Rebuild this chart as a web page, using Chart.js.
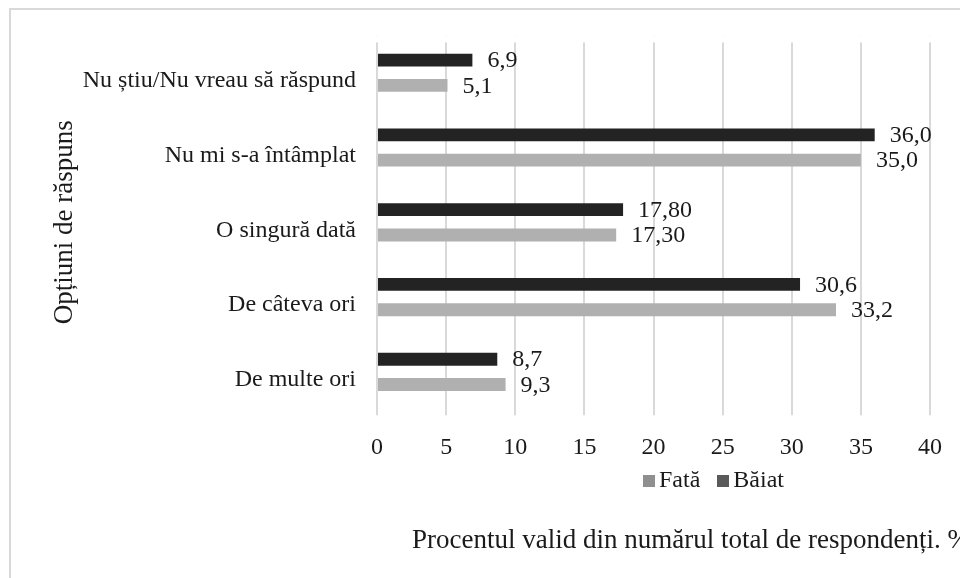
<!DOCTYPE html>
<html>
<head>
<meta charset="utf-8">
<script src="https://cdn.jsdelivr.net/npm/chart.js@4.4.0/dist/chart.umd.min.js"></script>
<style>
body { margin: 0; width: 960px; height: 578px; overflow: hidden; background: #fff; font-family: "Liberation Serif", "Times New Roman", serif; color: #1a1a1a; }
#frame { position: absolute; left: 9px; top: 8px; width: 2000px; height: 2000px; border-left: 2px solid #d9d9d9; border-top: 2px solid #d9d9d9; }
#myChart { position: absolute; left: 0; top: 0; }
#legend { position: absolute; left: 643px; top: 466px; font-size: 24px; white-space: nowrap; }
#legend span.sw { display: inline-block; width: 12px; height: 12px; margin-right: 4px; }
#legend span.item { margin-right: 17px; }
#xtitle { position: absolute; left: 412px; top: 524px; font-size: 27px; white-space: nowrap; }
</style>
</head>
<body>
<div id="frame"></div>
<canvas id="myChart" width="960" height="578"></canvas>
<div id="legend"></div>
<div id="xtitle"></div>
<script>
// categories, top to bottom
var categories = ['Nu știu/Nu vreau să răspund', 'Nu mi s-a întâmplat', 'O singură dată', 'De câteva ori', 'De multe ori'];
var baiat = [6.9, 36.0, 17.8, 30.6, 8.7];
var fata = [5.1, 35.0, 17.3, 33.2, 9.3];
// decimals shown on the value labels
var decimals = [1, 1, 2, 1, 1];
var xTicks = [0, 5, 10, 15, 20, 25, 30, 35, 40];
var yTitle = 'Opțiuni de răspuns';
var xTitle = 'Procentul valid din numărul total de respondenți. %';

var serif = '"Liberation Serif", "Times New Roman", serif';

// legend (Fată first, like the original)
var legendItems = [
	{ label: 'Fată', color: '#8f8f8f' },
	{ label: 'Băiat', color: '#5a5a5a' }
];
var legendHtml = '';
for (var i in legendItems) {
	legendHtml += '<span class="item"><span class="sw" style="background:' + legendItems[i].color + '"></span>' + legendItems[i].label + '</span>';
}
document.getElementById('legend').innerHTML = legendHtml;
document.getElementById('xtitle').textContent = xTitle;

// value labels at the end of each bar
var valueLabels = {
	id: 'valueLabels',
	afterDatasetsDraw: function(chart) {
		var ctx = chart.ctx;
		ctx.save();
		ctx.font = '24px ' + serif;
		ctx.fillStyle = '#1a1a1a';
		ctx.textAlign = 'left';
		ctx.textBaseline = 'middle';
		chart.data.datasets.forEach(function(ds, i) {
			chart.getDatasetMeta(i).data.forEach(function(bar, j) {
				var txt = ds.data[j].toFixed(decimals[j]).replace('.', ',');
				ctx.fillText(txt, bar.x + 15, bar.y + 1);
			});
		});
		ctx.restore();
	}
};

// the gridlines start a little below the top of the plot
var gridTop = {
	id: 'gridTop',
	beforeDatasetsDraw: function(chart) {
		var a = chart.chartArea;
		chart.ctx.save();
		chart.ctx.fillStyle = '#fff';
		chart.ctx.fillRect(a.left - 3, a.top, a.right - a.left + 6, 7);
		chart.ctx.restore();
	}
};

var ctx = document.getElementById('myChart');

var barGraph = new Chart(ctx, {
	type: 'bar',
	data: {
		labels: categories,
		datasets: [
			{
				label: 'Băiat',
				backgroundColor: '#232323',
				data: baiat
			},
			{
				label: 'Fată',
				backgroundColor: '#b0b0b0',
				data: fata
			}
		]
	},
	options: {
		indexAxis: 'y',
		responsive: false,
		animation: false,
		categoryPercentage: 0.676,
		barPercentage: 0.51,
		layout: { padding: { left: 40, right: 29, top: 32, bottom: 98 } },
		plugins: {
			legend: { display: false },
			tooltip: { enabled: false }
		},
		scales: {
			x: {
				min: 0,
				max: 40,
				afterBuildTicks: function(scale) {
					scale.ticks = xTicks.map(function(v) { return { value: v }; });
				},
				ticks: { padding: 18, color: '#1a1a1a', font: { family: serif, size: 24 } },
				grid: { color: '#d9d9d9', lineWidth: 2, tickLength: 6 },
				border: { display: false }
			},
			y: {
				afterFit: function(scale) { scale.width = 337; },
				grid: { display: false, drawTicks: false },
				border: { display: false },
				ticks: { padding: 21, labelOffset: 8, color: '#1a1a1a', font: { family: serif, size: 24 } },
				title: { display: true, text: yTitle, color: '#1a1a1a', font: { family: serif, size: 27 }, padding: { top: 9, bottom: 0 } }
			}
		}
	},
	plugins: [valueLabels, gridTop]
});
</script>
</body>
</html>
